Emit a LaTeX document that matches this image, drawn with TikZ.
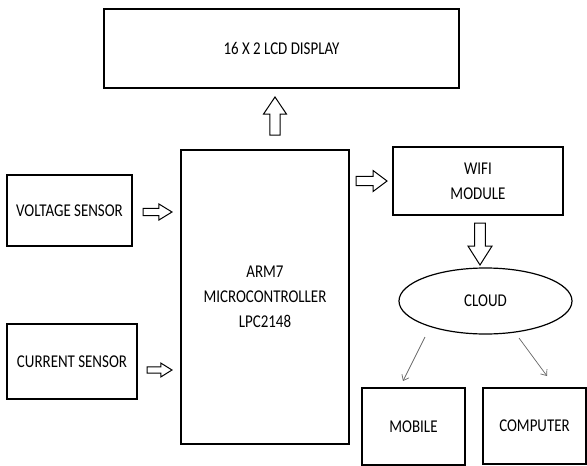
\documentclass[tikz,border=0pt]{standalone}
\usepackage{fontspec}
\setmainfont[FakeStretch=0.83]{Carlito}
\usetikzlibrary{calc}
\usetikzlibrary{shapes.geometric}
\usetikzlibrary{arrows.meta}
\tikzset{>={Stealth[scale=1.4]}}

\tikzset{
  box/.style={draw, line width=1.2pt, inner sep=0pt, align=center,
    font=\fontsize{18}{25}\selectfont},
  thinarrow/.style={draw=black!60, line width=0.7pt, -{Straight Barb[length=5pt,width=8pt]}},
  blockarrow/.pic={
    \draw[line width=1pt, line join=miter]
      (-0.5,0.225) -- (0.05,0.225) -- (0.05,0.5) -- (0.5,0)
      -- (0.05,-0.5) -- (0.05,-0.225) -- (-0.5,-0.225) -- cycle;
  }
}

\begin{document}
\begin{tikzpicture}[x=1pt,y=-1pt]
  \useasboundingbox (0,0) rectangle (587,466);

  % 方框
  \node[box, minimum width=355pt, minimum height=79pt] (lcd) at (281.5,48.5) {16 X 2 LCD DISPLAY};
  \node[box, minimum width=168pt, minimum height=294pt] (mcu) at (265,297) {ARM7\\MICROCONTROLLER\\LPC2148};
  \node[box, minimum width=125pt, minimum height=71pt] (volt) at (69.5,210.5) {VOLTAGE SENSOR};
  \node[box, minimum width=130pt, minimum height=75pt] (curr) at (72,361.5) {CURRENT SENSOR};
  \node[box, minimum width=170pt, minimum height=68pt] (wifi) at (478,181) {WIFI\\MODULE};
  \node[box, ellipse, minimum width=173pt, minimum height=66pt] (cloud) at (485.5,301) {CLOUD};
  \node[box, minimum width=103pt, minimum height=77pt] (mobile) at (413.5,426.5) {MOBILE};
  \node[box, minimum width=103pt, minimum height=76pt] (comp) at (534.5,426) {COMPUTER};

  % 空心箭头
  \pic[rotate=90, xscale=38, yscale=23] at (275,116) {blockarrow};
  \pic[xscale=29, yscale=16] at (157.5,212) {blockarrow};
  \pic[xscale=25, yscale=14] at (159.5,370) {blockarrow};
  \pic[xscale=31, yscale=21] at (371.5,181) {blockarrow};
  \pic[rotate=-90, xscale=42, yscale=24] at (480,244) {blockarrow};

  % 细箭头
  \coordinate (m0) at (425,337);
  \coordinate (m1) at (403,381);
  \coordinate (c0) at (519,338);
  \coordinate (c1) at (547,376);
  \draw[thinarrow] (m0) -- (m1);
  \draw[thinarrow] (c0) -- (c1);
\end{tikzpicture}
\end{document}
